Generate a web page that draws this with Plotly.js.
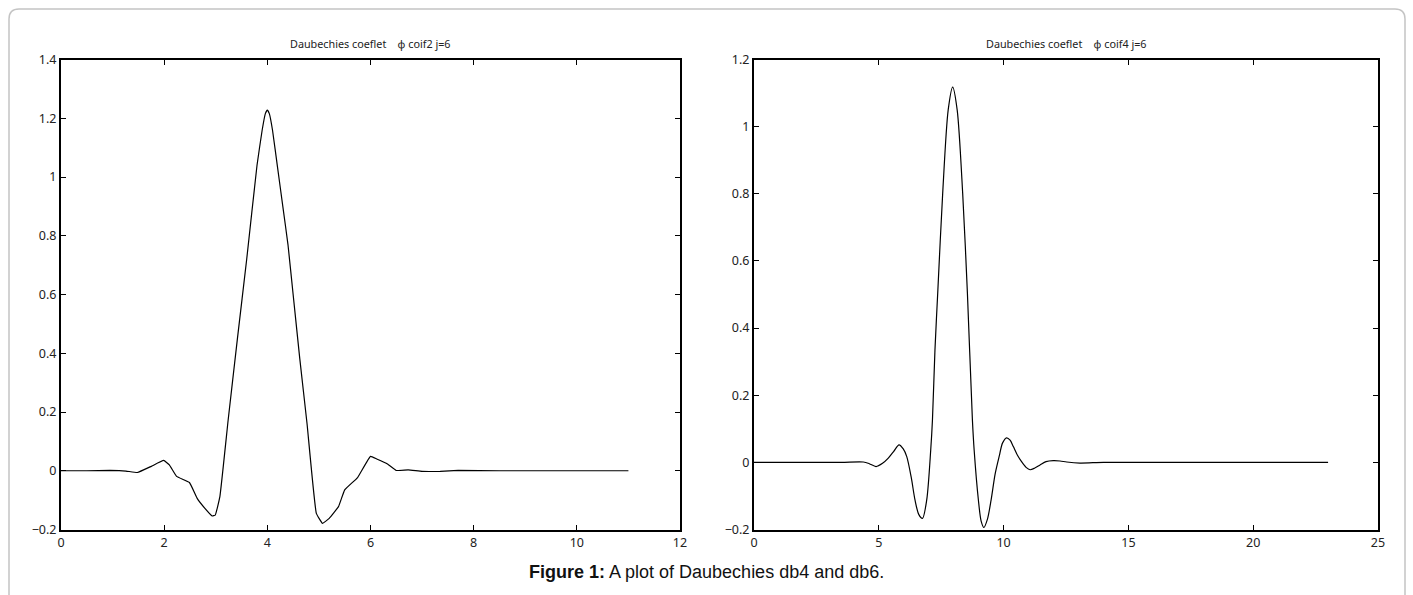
<!DOCTYPE html>
<html>
<head>
<meta charset="utf-8">
<script src="https://cdn.plot.ly/plotly-3.0.1.min.js"></script>
<style>
html,body{margin:0;padding:0;background:#fff;}
#chart{width:1413px;height:595px;}
</style>
</head>
<body>
<div id="chart"></div>
<script>
// Left panel: coif2 scaling function
const coif2X = [0, 0.5, 0.95, 1.26, 1.48, 1.75, 1.99, 2.1, 2.24, 2.49, 2.64, 2.79, 2.93, 2.99, 3.08, 3.24, 3.42, 3.6, 3.8, 3.9, 3.96, 4.0, 4.04, 4.1, 4.2, 4.3, 4.4, 4.5, 4.63, 4.77, 4.95, 5.07, 5.2, 5.38, 5.5, 5.75, 6.0, 6.12, 6.33, 6.5, 6.73, 7.0, 7.35, 7.7, 8.5, 9.5, 11];
const coif2Y = [0, 0, 0.001, -0.001, -0.006, 0.015, 0.035, 0.02, -0.019, -0.04, -0.094, -0.128, -0.154, -0.151, -0.088, 0.172, 0.45, 0.72, 1.04, 1.16, 1.215, 1.228, 1.215, 1.16, 1.03, 0.9, 0.77, 0.6, 0.38, 0.16, -0.145, -0.179, -0.162, -0.122, -0.065, -0.023, 0.049, 0.04, 0.023, 0.001, 0.003, -0.002, -0.002, 0.001, 0, 0, 0];

// Right panel: coif4 scaling function
const coif4X = [0, 2, 3.5, 4.38, 4.62, 4.89, 5.15, 5.38, 5.6, 5.81, 5.98, 6.12, 6.3, 6.45, 6.6, 6.75, 6.92, 7.08, 7.15, 7.25, 7.36, 7.56, 7.78, 7.96, 8.14, 8.36, 8.55, 8.75, 8.82, 8.99, 9.1, 9.21, 9.35, 9.5, 9.66, 9.82, 9.96, 10.12, 10.26, 10.39, 10.55, 10.72, 10.9, 11.06, 11.25, 11.46, 11.7, 11.99, 12.26, 12.53, 13.06, 14, 16, 20, 23];
const coif4Y = [0, 0, 0, 0.001, -0.004, -0.0125, -0.003, 0.0125, 0.033, 0.052, 0.04, 0.017, -0.045, -0.112, -0.155, -0.167, -0.112, 0.037, 0.127, 0.335, 0.504, 0.802, 1.05, 1.118, 1.05, 0.802, 0.504, 0.127, 0.037, -0.112, -0.175, -0.194, -0.17, -0.112, -0.035, 0.017, 0.058, 0.073, 0.066, 0.047, 0.022, 0.002, -0.015, -0.022, -0.017, -0.008, 0.002, 0.005, 0.004, 0.001, -0.002, 0, 0, 0, 0];

const leftTicks = [0, 2, 4, 6, 8, 10, 12];
const rightTicks = [0, 5, 10, 15, 20, 25];
const leftYTicks = [-0.2, 0, 0.2, 0.4, 0.6, 0.8, 1, 1.2, 1.4];
const rightYTicks = [-0.2, 0, 0.2, 0.4, 0.6, 0.8, 1, 1.2];

const leftTitle = 'Daubechies coeflet\u00a0\u00a0\u00a0\u00a0\u03d5 coif2 j=6';
const rightTitle = 'Daubechies coeflet\u00a0\u00a0\u00a0\u00a0\u03d5 coif4 j=6';
const caption = '<b>Figure 1:</b> A plot of Daubechies db4 and db6.';

const W = 1413, H = 595;
const px = v => v / W;
const py = v => 1 - v / H;

const tickFont = {family: 'Noto Sans, DejaVu Sans, sans-serif', size: 12.5, color: '#222'};

function axisX(range, ticks, domain) {
  return {
    domain: domain, range: range, tickvals: ticks, ticktext: ticks.map(String),
    showline: true, linecolor: '#000', linewidth: 2, mirror: 'ticks',
    ticks: 'inside', ticklen: 5, tickwidth: 1, tickcolor: '#000',
    showgrid: false, zeroline: false, tickfont: tickFont, fixedrange: true
  };
}
function axisY(range, ticks, anchor) {
  return {
    domain: [py(529.5), py(59.5)], range: range, tickvals: ticks,
    ticktext: ticks.map(v => v < 0 ? '\u2212' + Math.abs(v) : String(v)),
    showline: true, linecolor: '#000', linewidth: 2, mirror: 'ticks',
    ticks: 'inside', ticklen: 5, tickwidth: 1, tickcolor: '#000',
    showgrid: false, zeroline: false, tickfont: tickFont, anchor: anchor, fixedrange: true
  };
}

const traces = [
  {x: coif2X, y: coif2Y, type: 'scatter', mode: 'lines', xaxis: 'x', yaxis: 'y',
   line: {color: '#000', width: 1.2, shape: 'spline', smoothing: 0.3}, hoverinfo: 'skip'},
  {x: coif4X, y: coif4Y, type: 'scatter', mode: 'lines', xaxis: 'x2', yaxis: 'y2',
   line: {color: '#000', width: 1.2, shape: 'spline', smoothing: 0.8}, hoverinfo: 'skip'}
];

const r = 10;
const fx0 = 9, fx1 = 1405, fy0 = 9, fyEnd = 610;
const framePath = `M ${px(fx0)} ${py(fyEnd)} L ${px(fx0)} ${py(fy0 + r)} Q ${px(fx0)} ${py(fy0)} ${px(fx0 + r)} ${py(fy0)} L ${px(fx1 - r)} ${py(fy0)} Q ${px(fx1)} ${py(fy0)} ${px(fx1)} ${py(fy0 + r)} L ${px(fx1)} ${py(fyEnd)}`;

const titleFont = {family: 'Noto Sans, DejaVu Sans, sans-serif', size: 10.8, color: '#222'};

const layout = {
  width: W, height: H,
  margin: {l: 0, r: 0, t: 0, b: 0},
  paper_bgcolor: '#fff', plot_bgcolor: '#fff',
  showlegend: false,
  xaxis: axisX([0, 12], leftTicks, [px(61), px(680)]),
  yaxis: axisY([-0.2, 1.4], leftYTicks, 'x'),
  xaxis2: axisX([0, 25], rightTicks, [px(754), px(1378)]),
  yaxis2: axisY([-0.2, 1.2], rightYTicks, 'x2'),
  shapes: [
    {type: 'path', xref: 'paper', yref: 'paper', path: framePath,
     line: {color: '#c4c4c4', width: 1.5}}
  ],
  annotations: [
    {text: leftTitle, xref: 'paper', yref: 'paper', x: px(370.5), y: py(44),
     showarrow: false, xanchor: 'center', yanchor: 'middle', font: titleFont},
    {text: rightTitle, xref: 'paper', yref: 'paper', x: px(1066), y: py(44),
     showarrow: false, xanchor: 'center', yanchor: 'middle', font: titleFont},
    {text: caption, xref: 'paper', yref: 'paper', x: px(706), y: py(572),
     showarrow: false, xanchor: 'center', yanchor: 'middle',
     font: {family: 'Liberation Sans, Arial, sans-serif', size: 18, color: '#111'}}
  ]
};

Plotly.newPlot('chart', traces, layout, {displayModeBar: false, staticPlot: true});
</script>
</body>
</html>
